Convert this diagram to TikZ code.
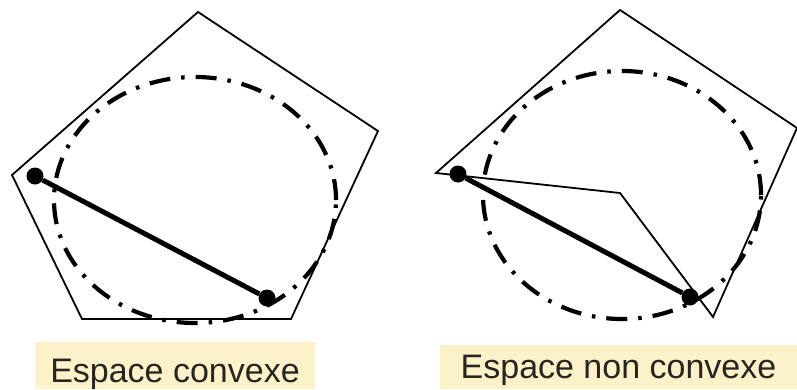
\documentclass[tikz,border=0pt]{standalone}
\usepackage{fontspec}
\setmainfont{Liberation Sans}
\usepackage{xcolor}
\usetikzlibrary{positioning}
\definecolor{labelfill}{RGB}{252,242,201}
\definecolor{labeltext}{RGB}{40,37,32}

\begin{document}
\begin{tikzpicture}[
x=1pt, y=-1pt,
edge/.style={draw, line width=1.8pt, line join=miter},
ring/.style={draw, line width=4.2pt, dash pattern=on 21pt off 11pt on 3.5pt off 11pt},
dot/.style={circle, fill, inner sep=0pt, minimum size=17pt},
segment/.style={line width=5pt},
tag/.style={fill=labelfill, text=labeltext, inner sep=0pt, anchor=base, font=\fontsize{34}{40}\selectfont}
]
\useasboundingbox (0,0) rectangle (797,389);
\coordinate (p1) at (198,12);
\coordinate (p2) at (378,131);
\coordinate (p3) at (291,319);
\coordinate (p4) at (82,319);
\coordinate (p5) at (12,175);
\coordinate (q1) at (436,173);
\coordinate (q2) at (620,10);
\coordinate (q3) at (797,128);
\coordinate (q4) at (713,317);
\coordinate (q5) at (620,193);
\coordinate (cl) at (195,200);
\coordinate (cr) at (622,195);
\draw[ring] (cl) ellipse [x radius=141pt, y radius=123pt];
\draw[ring] (cr) ellipse [x radius=139pt, y radius=124pt];
\draw[edge] (p1) -- (p2) -- (p3) -- (p4) -- (p5) -- cycle;
\draw[edge] (q1) -- (q2) -- (q3) -- (q4) -- (q5) -- cycle;
\node[dot] (a1) at (35,176) {};
\node[dot] (a2) at (267,298) {};
\node[dot] (b1) at (458,174) {};
\node[dot] (b2) at (690,297) {};
\draw[segment] (a1) -- (a2);
\draw[segment] (b1) -- (b2);
\node[tag, minimum width=280pt, text height=40pt, text depth=7pt] (convexe) at (175,382) {Espace convexe};
\node[tag, minimum width=357pt, text height=33pt, text depth=11pt] (nonconvexe) at (618.5,378) {Espace non convexe};
\end{tikzpicture}
\end{document}
